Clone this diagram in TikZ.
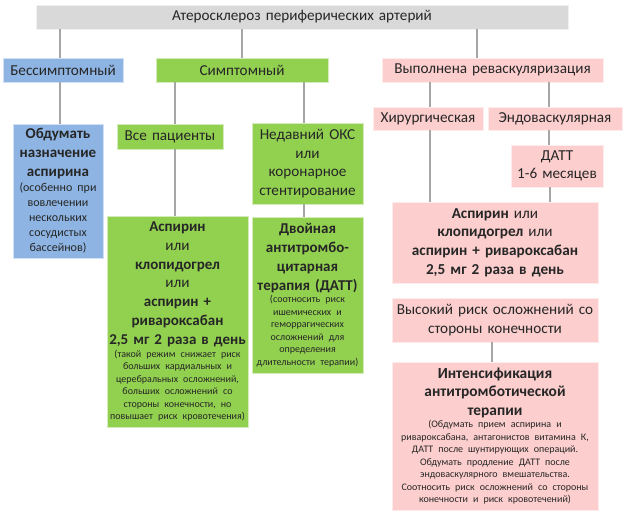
\documentclass[tikz,border=0pt]{standalone}
\usepackage{fontspec}
\setmainfont{Carlito}
\usepackage{tikz}

\definecolor{boxgrey}{RGB}{217,217,217}
\definecolor{boxblue}{RGB}{141,180,226}
\definecolor{boxgreen}{RGB}{146,208,80}
\definecolor{boxpink}{RGB}{252,206,206}
\definecolor{linegrey}{RGB}{166,166,166}

\newcommand{\txtnorm}{\fontsize{15.2}{18.7}\selectfont\mdseries}
\newcommand{\txtbold}{\fontsize{15}{19}\selectfont\bfseries}
\newcommand{\txtnote}{\fontsize{10}{12.5}\selectfont\mdseries}
\newcommand{\txtnotebig}{\fontsize{12}{15}\selectfont\mdseries}

\begin{document}
\begin{tikzpicture}[
		x=1pt, y=-1pt,
		every node/.style={rectangle, inner sep=0pt, align=center, text=black!85, font=\txtnorm},
		wh/.style 2 args={minimum width=#1pt, text width=#1pt, minimum height=#2pt},
		grey/.style={fill=boxgrey, draw=boxgrey!40!white, line width=0.8pt},
		blue/.style={fill=boxblue, draw=boxblue!40!white, line width=0.8pt},
		green/.style={fill=boxgreen, draw=boxgreen!40!white, line width=0.8pt},
		pink/.style={fill=boxpink, draw=boxpink!40!white, line width=0.8pt},
		link/.style={draw=linegrey, line width=1.2pt}
	]
  \useasboundingbox (0,0) rectangle (628,519);

  % first level
  \node (top) [grey, wh={532}{24}] at (302, 17) {Атеросклероз периферических артерий};
  \node (bes) [blue, wh={120}{24}] at (63, 70) {Бессимптомный};
  \node (sym) [green, wh={172}{24}] at (242, 70) {Симптомный};
  \node (rev) [pink, wh={221}{24}] at (492.5, 70) {Выполнена реваскуляризация};

  % left and middle columns
  \node (obd) [blue, wh={90}{134}] at (58, 191)
    {\txtbold Обдумать\\ назначение\\ аспирина\par
     \txtnotebig (особенно при\\ вовлечении\\ нескольких\\ сосудистых\\ бассейнов)\par};
  \node (vse) [green, wh={106}{25}] at (170, 136.5) {Все пациенты};
  \node (ned) [green, wh={111}{81}] at (307.5, 163.5) {Недавний ОКС\\ или\\ коронарное\\ стентирование\par};
  \node (g_asp) [green, wh={141}{211}] at (177.5, 321.5)
    {\txtbold Аспирин\\ \txtnorm или\\ \txtbold клопидогрел\\ \txtnorm или\\
     \txtbold аспирин +\\ ривароксабан\\ 2,5 мг 2 раза в день\par
     \txtnote (такой режим снижает риск\\ больших кардиальных и\\ церебральных осложнений,\\
     больших осложнений со\\ стороны конечности, но\\ повышает риск кровотечения)\par};
  \node (g_datt) [green, wh={111}{156}] at (307.5, 295)
    {\txtbold Двойная\\ антитромбо-\\ цитарная\\ терапия (ДАТТ)\par
     \txtnote (соотносить риск\\ ишемических и\\ геморрагических\\ осложнений для\\
     определения\\ длительности терапии)\par};

  % right column
  \node (khir) [pink, wh={110}{23}] at (428, 118.5) {Хирургическая};
  \node (endo) [pink, wh={134}{23}] at (555, 118.5) {Эндоваскулярная};
  \node (datt) [pink, wh={92}{42}] at (557, 166) {ДАТТ\\ 1-6 месяцев\par};
  \node (p_asp) [pink, wh={206}{81}] at (495, 242.5)
    {{\bfseries Аспирин} или\\ {\bfseries клопидогрел} или\\
     \bfseries аспирин + ривароксабан\\ 2,5 мг 2 раза в день\par};
  \node (risk) [pink, wh={206}{44}] at (495, 320) {Высокий риск осложнений со\\ стороны конечности\par};
  \node (intens) [pink, wh={206}{148}] at (495, 436)
    {\txtbold\fontsize{15.4}{18.5}\selectfont Интенсификация\\ антитромботической\\ терапии\par
     \txtnote (Обдумать прием аспирина и\\ ривароксабана, антагонистов витамина К,\\
     ДАТТ после шунтирующих операций.\\ Обдумать продление ДАТТ после\\
     эндоваскулярного вмешательства.\\ Соотносить риск осложнений со стороны\\
     конечности и риск кровотечений)\par};

  % connectors
  \draw [link] ([xshift=-3pt]bes.north) -- ([xshift=-3pt]bes.north |- top.south);
  \draw [link] (sym.north) -- (sym.north |- top.south);
  \draw [link] ([xshift=-15.5pt]rev.north) -- ([xshift=-15.5pt]rev.north |- top.south);
  \draw [link] ([xshift=-3pt]bes.south) -- ([xshift=-3pt]bes.south |- obd.north);
  \draw [link] ([xshift=5pt]vse.north) -- ([xshift=5pt]vse.north |- sym.south);
  \draw [link] ([xshift=-3.5pt]ned.north) -- ([xshift=-3.5pt]ned.north |- sym.south);
  \draw [link] ([xshift=5pt]vse.south) -- ([xshift=5pt]vse.south |- g_asp.north);
  \draw [link] ([xshift=-3.5pt]ned.south) -- ([xshift=-3.5pt]ned.south |- g_datt.north);
  \draw [link] ([xshift=2pt]khir.north) -- ([xshift=2pt]khir.north |- rev.south);
  \draw [link] ([xshift=-6pt]endo.north) -- ([xshift=-6pt]endo.north |- rev.south);
  \draw [link] ([xshift=-6pt]endo.south) -- ([xshift=-6pt]endo.south |- datt.north);
  \draw [link] ([xshift=2pt]khir.south) -- ([xshift=2pt]khir.south |- p_asp.north);
  \draw [link] ([xshift=-7pt]datt.south) -- ([xshift=-7pt]datt.south |- p_asp.north);
  \draw [link] ([xshift=-3pt]risk.south) -- ([xshift=-3pt]risk.south |- intens.north);
\end{tikzpicture}
\end{document}
